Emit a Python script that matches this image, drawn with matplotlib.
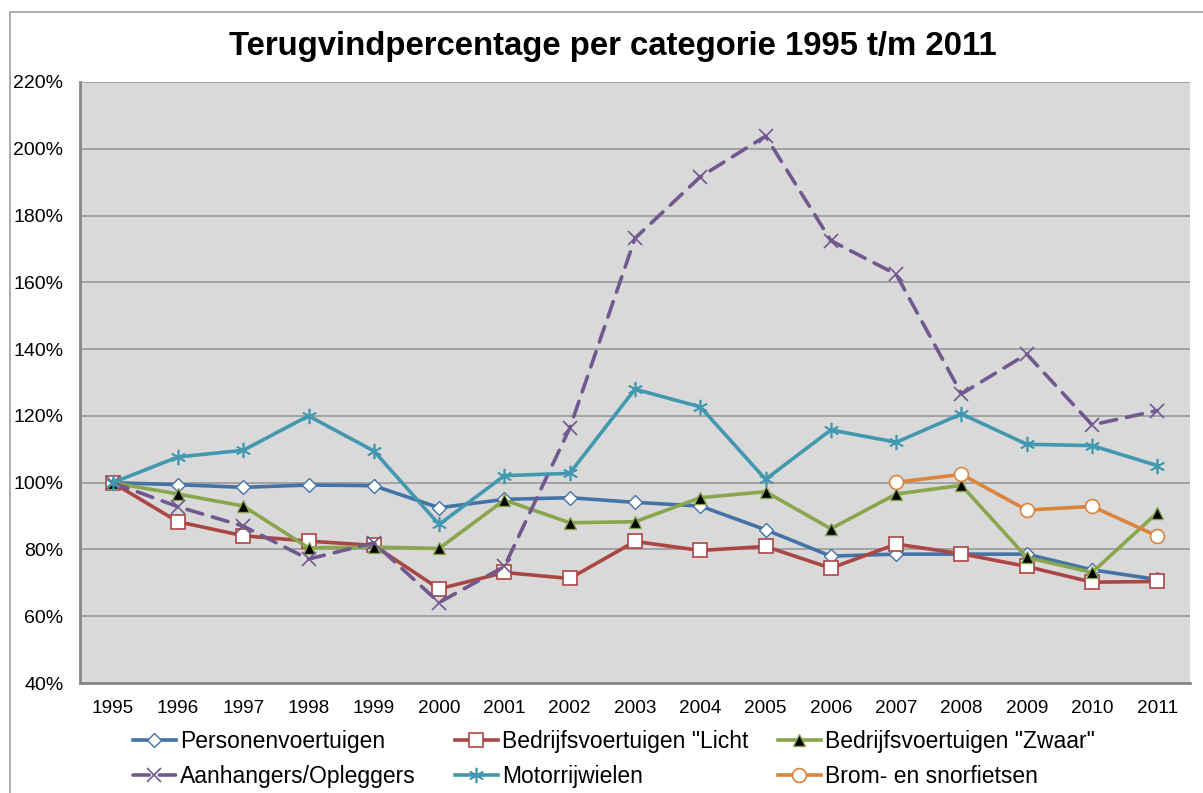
import numpy as np
import matplotlib.pyplot as plt
from matplotlib.patches import Rectangle
from matplotlib.ticker import FuncFormatter

plt.rcParams['font.family'] = ['Liberation Sans', 'DejaVu Sans']

years = list(range(1995, 2012))

# terugvindpercentage per categorie (in %)
personen = [100, 99.4, 98.6, 99.3, 99.1, 92.5, 95.0, 95.5, 94.1, 93.0, 85.9, 78.0, 78.6, 78.6, 78.6, 73.9, 71.0]
licht = [100, 88.3, 84.1, 82.5, 81.2, 68.2, 73.1, 71.3, 82.4, 79.7, 80.9, 74.4, 81.6, 78.7, 74.9, 70.2, 70.4]
zwaar = [100, 96.6, 93.0, 80.5, 80.7, 80.3, 94.8, 88.0, 88.3, 95.5, 97.3, 86.2, 96.6, 99.2, 77.6, 73.1, 91.0]
aanhangers = [100, 92.8, 87.0, 77.1, 82.0, 64.1, 74.9, 116.3, 173.2, 191.6, 203.8, 172.5, 162.4, 126.6, 138.5, 117.3, 121.6]
motor = [100, 107.7, 109.7, 120.0, 109.5, 87.5, 102.1, 102.8, 128.0, 122.7, 101.0, 115.8, 112.1, 120.6, 111.5, 111.1, 105.1]
brom_years = [2007, 2008, 2009, 2010, 2011]
brom = [100.1, 102.5, 91.8, 92.9, 84.0]

fig = plt.figure(figsize=(12.03, 7.93), dpi=100)
ax = fig.add_axes([80/1203, 1-683/793, 1110/1203, 601/793])
ax.set_facecolor('#d9d9d9')

x = np.arange(len(years))
bx = [years.index(y) for y in brom_years]

lw = 2.6
l1, = ax.plot(x, personen, color='#4572a7', lw=lw, marker='D', ms=7, mfc='white', mec='#4572a7', mew=1,
              label='Personenvoertuigen', zorder=3)
l2, = ax.plot(x, licht, color='#aa4643', lw=lw, marker='s', ms=10, mfc='white', mec='#aa4643', mew=1.2,
              label='Bedrijfsvoertuigen "Licht', zorder=3)
l3, = ax.plot(x, zwaar, color='#89a54e', lw=lw, marker='^', ms=9, mfc='black', mec='#89a54e', mew=1,
              label='Bedrijfsvoertuigen "Zwaar"', zorder=3)
l4, = ax.plot(x, aanhangers, color='#71588f', lw=lw, ls=(0, (4.5, 2.8)), dash_capstyle='round',
              marker='x', ms=10, mec='#71588f', mew=1.2, label='Aanhangers/Opleggers', zorder=3)
l5, = ax.plot(x, motor, color='#4198af', lw=lw, marker=(6, 2, 0), ms=11, mec='#4198af', mew=1.2,
              label='Motorrijwielen', zorder=3)
l6, = ax.plot(bx, brom, color='#db843d', lw=lw, marker='o', ms=10, mfc='white', mec='#db843d', mew=1.2,
              label='Brom- en snorfietsen', zorder=3)

ax.set_xlim(-0.5, len(years) - 0.5)
ax.set_ylim(40, 220)
ax.set_yticks(np.arange(40, 221, 20))
ax.yaxis.set_major_formatter(FuncFormatter(lambda v, p: f'{v:.0f}%'))
ax.set_xticks(x)
ax.set_xticklabels([str(y) for y in years])
ax.tick_params(axis='y', length=0, pad=12, labelsize=14)
ax.tick_params(axis='x', length=0, pad=12, labelsize=13.7)
ax.grid(axis='y', color='#999999', lw=1.2, zorder=1)
ax.set_axisbelow(True)
for s in ['top', 'right']:
    ax.spines[s].set_visible(False)
for s in ['left', 'bottom']:
    ax.spines[s].set_color('#868686')
    ax.spines[s].set_linewidth(2)

fig.text(613/1203, 1-46/793, 'Terugvindpercentage per categorie 1995 t/m 2011',
         ha='center', va='center', fontsize=23.7, fontweight='bold')

# buitenrand van de grafiek
fig.patches.append(Rectangle((10/1203, -0.1), 1.2, 1-12/793+0.1, transform=fig.transFigure,
                             fill=False, ec='#a0a0a0', lw=1.2))

cols = [([l1, l4], 135), ([l2, l5], 457), ([l3, l6], 780)]
for hs, px in cols:
    fig.legend(handles=hs, loc='upper left', bbox_to_anchor=(px/1203 - 0.002, 1-730/793),
               frameon=False, fontsize=16.5, handlelength=1.9, handletextpad=0.17,
               labelspacing=0.52, borderpad=0, borderaxespad=0)

fig.savefig('out.png', dpi=100)
